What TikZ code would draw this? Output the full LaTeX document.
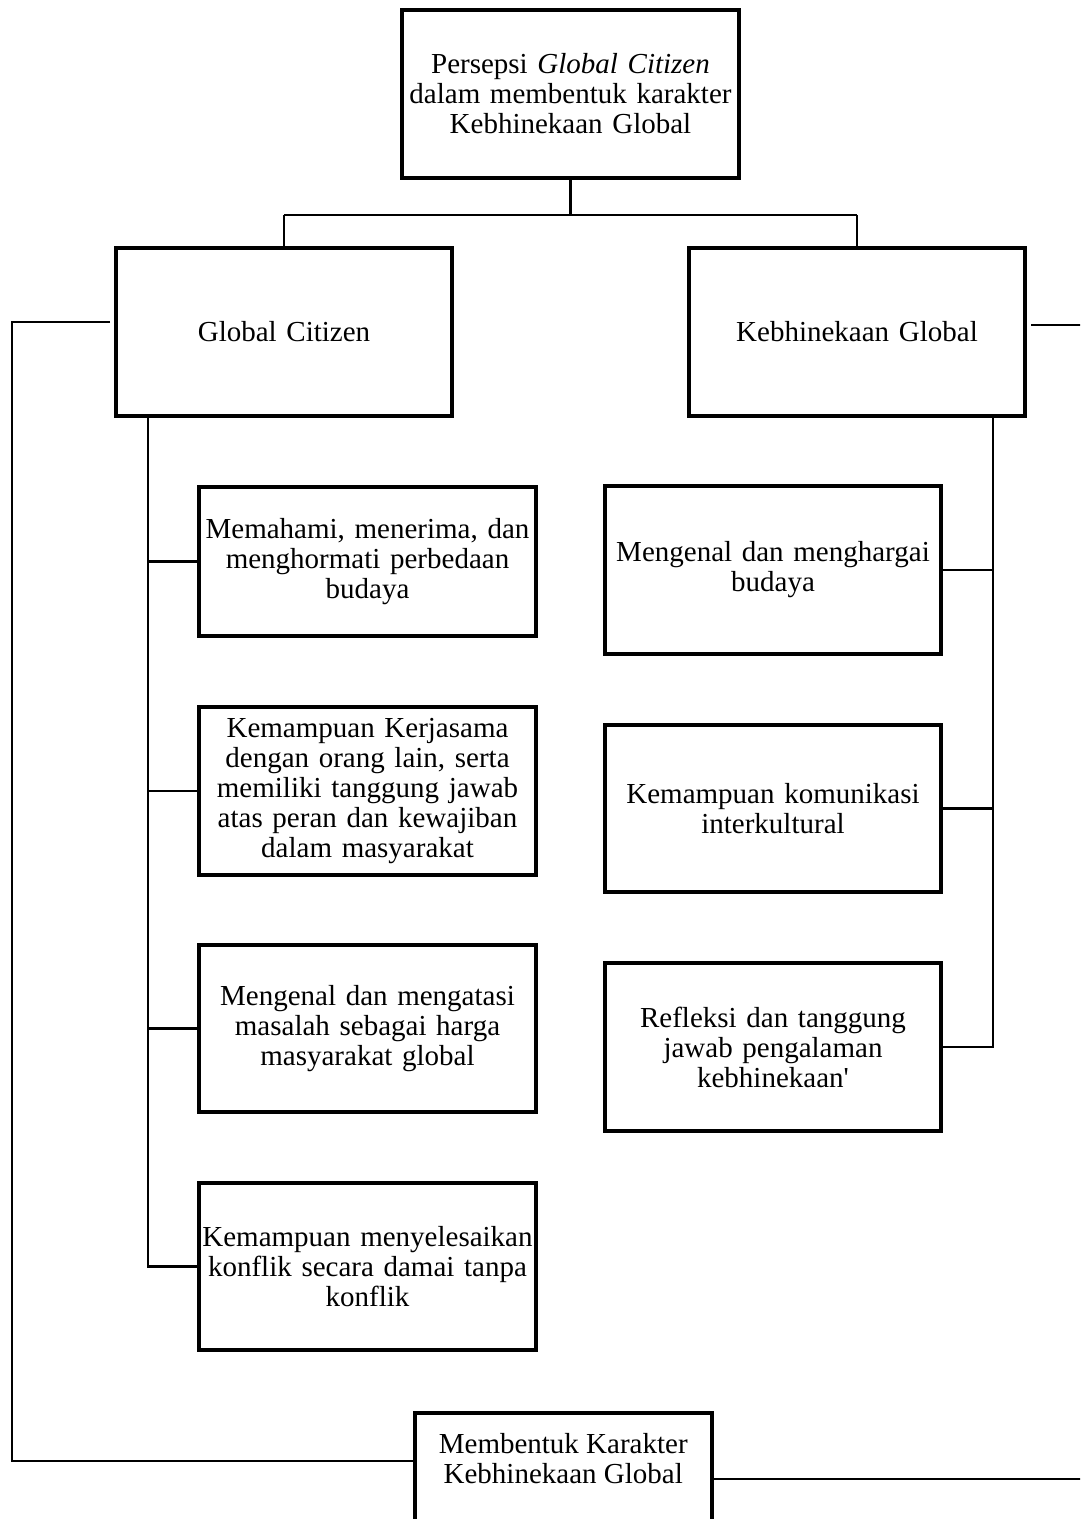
\documentclass[tikz,border=0pt]{standalone}
\usepackage{fontspec}
\setmainfont{Liberation Serif}
\begin{document}
\begin{tikzpicture}[x=1pt,y=-1pt,
  box/.style={draw, line width=3.5pt, rectangle, inner sep=0pt, align=center,
    text width=#1, minimum width=#1, font=\fontsize{29}{30}\selectfont},
  box/.default=337pt,
  conn/.style={line width=2.4pt},
  thinline/.style={line width=1.2pt}]
\useasboundingbox (0,0) rectangle (1080,1519);
\clip (0,0) rectangle (1080,1519);

% main boxes
\node[box=337pt, minimum height=168pt] (top) at (570.5,94)
  {Persepsi \textit{Global Citizen}\\dalam membentuk karakter\\Kebhinekaan Global};
\node[box=336pt, minimum height=168pt] (gc) at (284,332) {Global Citizen};
\node[box=336pt, minimum height=168pt] (kg) at (857,332) {Kebhinekaan Global};

% left column
\node[box=337pt, minimum height=149pt] (l1) at (367.5,561.5)
  {Memahami, menerima, dan\\menghormati perbedaan\\budaya};
\node[box=337pt, minimum height=168pt] (l2) at (367.5,791)
  {Kemampuan Kerjasama\\dengan orang lain, serta\\memiliki tanggung jawab\\atas peran dan kewajiban\\dalam masyarakat};
\node[box=337pt, minimum height=167pt] (l3) at (367.5,1028.5)
  {Mengenal dan mengatasi\\masalah sebagai harga\\masyarakat global};
\node[box=337pt, minimum height=167pt] (l4) at (367.5,1266.5)
  {\makebox[337pt][c]{Kemampuan menyelesaikan}\\konflik secara damai tanpa\\konflik};

% right column
\node[box=336pt, minimum height=168pt] (r1) at (773,570)
  {Mengenal dan menghargai\\budaya};
\node[box=336pt, minimum height=167pt] (r2) at (773,808.5)
  {Kemampuan komunikasi\\interkultural};
\node[box=336pt, minimum height=168pt] (r3) at (773,1047)
  {Refleksi dan tanggung\\jawab pengalaman\\kebhinekaan\textquotesingle};

% bottom box
\node[draw, line width=3.5pt, rectangle, inner sep=0pt, anchor=north west,
  font=\fontsize{29}{30}\selectfont] (bot) at (413,1411)
  {\parbox[t][112pt][t]{297pt}{\centering\rule{0pt}{41pt}Membentuk Karakter\\Kebhinekaan Global}};

% tree connectors
\coordinate (tj) at ([yshift=-35pt]top.south);
\draw[conn] (top.south) -- (tj);
\draw[conn] (tj -| gc.north) -- (tj -| kg.north);
\draw[conn] (tj -| gc.north) -- (gc.north);
\draw[conn] (tj -| kg.north) -- (kg.north);

\coordinate (ls) at ([xshift=34pt]gc.south west);
\draw[conn] (ls) |- (l4.west);
\draw[conn] (l1.west) -- (l1.west -| ls);
\draw[conn] (l2.west) -- (l2.west -| ls);
\draw[conn] (l3.west) -- (l3.west -| ls);

\coordinate (rs) at ([xshift=-34pt]kg.south east);
\draw[conn] (rs) |- (r3.east);
\draw[conn] (r1.east) -- (r1.east -| rs);
\draw[conn] (r2.east) -- (r2.east -| rs);

% outer thin connectors
\coordinate (a1) at (110,322);
\coordinate (a2) at (12,322);
\coordinate (a3) at (12,1461);
\draw[thinline] (a1) -- (a2) -- (a3) -- (a3 -| bot.west);
\coordinate (b1) at (1031,325);
\coordinate (b2) at (1082,325);
\draw[thinline] (b1) -- (b2);
\coordinate (c1) at (bot.east |- 0,1479);
\coordinate (c2) at (1082,1479);
\draw[thinline] (c1) -- (c2);
\end{tikzpicture}
\end{document}
